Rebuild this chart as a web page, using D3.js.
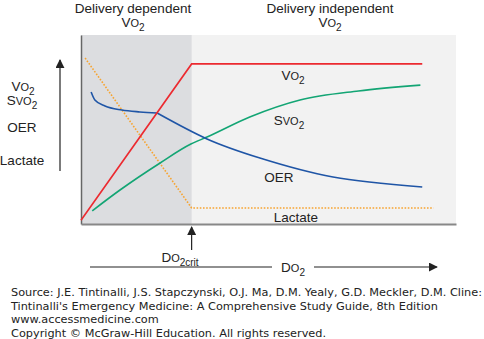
<!DOCTYPE html>
<html>
<head>
<meta charset="utf-8">
<script src="https://cdn.jsdelivr.net/npm/d3@7"></script>
<style>
  body { margin: 0; background: #fff; }
  svg { display: block; }
  .lbl { font-family: "Liberation Sans", Arial, sans-serif; font-size: 13.5px; fill: #222; }
  .src { font-family: "DejaVu Sans", Verdana, sans-serif; font-size: 11.3px; fill: #222; }
</style>
</head>
<body>
<div id="app"></div>
<script>
// DO2 on x (0..100), relative level on y (0..100)
const do2Crit = 29.5;
const xMax = 100;

const vo2X = [0, do2Crit, 91];
const vo2Y = [2, 84.7, 84.7];

const svo2X = [3, 10.4, 21.1, 29.3, 33.6, 45, 58.4, 74, 90.5];
const svo2Y = [7, 18, 32.3, 42.3, 46, 56.6, 65.6, 70.4, 73.5];

// OER: steep early fall, plateau, then a second decline past the kink
const oerX = [2.7, 3.7, 6.4, 10.9, 15.7, 20.3, 33.6, 47.7, 67.2, 91];
const oerY = [69.8, 65.6, 62.4, 60.3, 59.3, 58.7, 45, 34.9, 24.9, 19.6];
const oerKink = 5;

const lactateX = [1.1, do2Crit, 94];
const lactateY = [87.8, 8.5, 8.5];

const sourceLines = [
  "Source: J.E. Tintinalli, J.S. Stapczynski, O.J. Ma, D.M. Yealy, G.D. Meckler, D.M. Cline:",
  "Tintinalli's Emergency Medicine: A Comprehensive Study Guide, 8th Edition",
  "www.accessmedicine.com",
  "Copyright \u00a9 McGraw-Hill Education.  All rights reserved."
];

const W = 484, H = 339;
const plot = { left: 81, right: 456, top: 35, bottom: 224 };

const svg = d3.select('#app').append('svg')
  .attr('width', W)
  .attr('height', H);

const x = d3.scaleLinear().domain([0, xMax]).range([plot.left, plot.right]);
const y = d3.scaleLinear().domain([0, 100]).range([plot.bottom, plot.top]);

const defs = svg.append('defs');
defs.append('marker')
  .attr('id', 'arrow')
  .attr('viewBox', '0 0 10 10')
  .attr('refX', 9).attr('refY', 5)
  .attr('markerWidth', 9).attr('markerHeight', 9)
  .attr('markerUnits', 'userSpaceOnUse')
  .attr('orient', 'auto')
  .append('path')
  .attr('d', 'M0,0 L10,5 L0,10 Z')
  .attr('fill', '#222');

// background zones
svg.append('rect')
  .attr('x', x(0)).attr('y', y(100))
  .attr('width', x(xMax) - x(0)).attr('height', y(0) - y(100))
  .attr('fill', '#f2f2f2');
svg.append('rect')
  .attr('x', x(0)).attr('y', y(100))
  .attr('width', x(do2Crit) - x(0)).attr('height', y(0) - y(100))
  .attr('fill', '#dcdde0');

// axes (no ticks)
svg.append('g')
  .attr('transform', 'translate(' + x(0) + ',0)')
  .call(d3.axisLeft(y).tickValues([]).tickSizeOuter(0))
  .select('.domain').attr('stroke', '#666').attr('stroke-width', 1.5);
svg.append('g')
  .attr('transform', 'translate(0,' + y(0) + ')')
  .call(d3.axisBottom(x).tickValues([]).tickSizeOuter(0))
  .select('.domain').attr('stroke', '#888').attr('stroke-width', 2);

const zip = (xs, ys) => xs.map((d, i) => [d, ys[i]]);

const straight = d3.line().x(d => x(d[0])).y(d => y(d[1]));
const smooth = d3.line().curve(d3.curveMonotoneX).x(d => x(d[0])).y(d => y(d[1]));
const natural = d3.line().curve(d3.curveNatural).x(d => x(d[0])).y(d => y(d[1]));

svg.append('path')
  .attr('d', straight(zip(lactateX, lactateY)))
  .attr('fill', 'none').attr('stroke', '#f7a431')
  .attr('stroke-width', 1.6).attr('stroke-dasharray', '1.6,1.6');

svg.append('path')
  .attr('d', smooth(zip(svo2X, svo2Y)))
  .attr('fill', 'none').attr('stroke', '#13a574').attr('stroke-width', 1.6);

const oer = zip(oerX, oerY);
svg.append('path')
  .attr('d', smooth(oer.slice(0, oerKink + 1)) + natural(oer.slice(oerKink)))
  .attr('fill', 'none').attr('stroke', '#1f55a6').attr('stroke-width', 1.6);

svg.append('path')
  .attr('d', straight(zip(vo2X, vo2Y)))
  .attr('fill', 'none').attr('stroke', '#ec2a30').attr('stroke-width', 1.6);

// text like "VO2": big letter, smaller O, subscript
function chem(pre, mid, sub, px, py) {
  const t = svg.append('text').attr('class', 'lbl')
    .attr('x', px).attr('y', py).attr('text-anchor', 'middle');
  t.append('tspan').text(pre);
  t.append('tspan').attr('font-size', 11).text(mid);
  t.append('tspan').attr('font-size', 10).attr('dy', 3.5).text(sub);
  return t;
}
function plain(txt, px, py) {
  svg.append('text').attr('class', 'lbl')
    .attr('x', px).attr('y', py).attr('text-anchor', 'middle').text(txt);
}

// zone titles
plain('Delivery dependent', 133, 13);
chem('V', 'O', '2', 133, 27);
plain('Delivery independent', 330, 13);
chem('V', 'O', '2', 330, 27);

// y-side labels and arrow
chem('V', 'O', '2', 23, 91);
chem('S', 'VO', '2', 22, 105);
plain('OER', 22, 132);
plain('Lactate', 22, 165);
svg.append('line')
  .attr('x1', 60).attr('x2', 60).attr('y1', 171).attr('y2', 60)
  .attr('stroke', '#222').attr('stroke-width', 1.2)
  .attr('marker-end', 'url(#arrow)');

// curve labels
chem('V', 'O', '2', 293, 80);
chem('S', 'VO', '2', 289, 125);
plain('OER', 279, 182);
plain('Lactate', 296, 222);

// critical DO2 marker
svg.append('line')
  .attr('x1', x(do2Crit)).attr('x2', x(do2Crit)).attr('y1', 250).attr('y2', 227)
  .attr('stroke', '#222').attr('stroke-width', 1.2)
  .attr('marker-end', 'url(#arrow)');
chem('D', 'O', '2crit', 180, 262);

// DO2 axis arrow
svg.append('line')
  .attr('x1', 90).attr('x2', 272).attr('y1', 267).attr('y2', 267)
  .attr('stroke', '#222').attr('stroke-width', 1.2);
chem('D', 'O', '2', 293, 272);
svg.append('line')
  .attr('x1', 314).attr('x2', 437).attr('y1', 267).attr('y2', 267)
  .attr('stroke', '#222').attr('stroke-width', 1.2)
  .attr('marker-end', 'url(#arrow)');

// source block
svg.append('g').selectAll('text')
  .data(sourceLines)
  .join('text')
  .attr('class', 'src')
  .attr('x', 11)
  .attr('y', (d, i) => 296 + i * 13.7)
  .text(d => d);
</script>
</body>
</html>
